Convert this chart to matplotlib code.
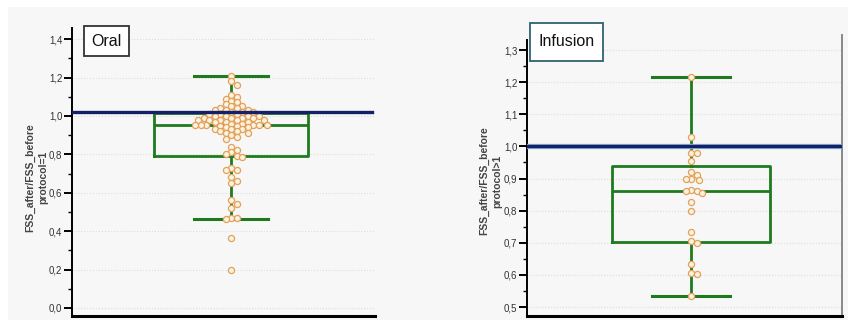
import numpy as np
import matplotlib
matplotlib.use("Agg")
import matplotlib.pyplot as plt
import matplotlib.patheffects as pe
from matplotlib.patches import Rectangle
from matplotlib.ticker import MultipleLocator, FuncFormatter

# values
oral = [1.21, 1.18, 1.16, 1.11, 1.10, 1.09, 1.08, 1.07, 1.06, 1.05, 1.05, 1.04, 1.04,
        1.03, 1.03, 1.03, 1.02, 1.02, 1.02, 1.01, 1.01, 1.01, 1.00, 1.00, 1.00, 1.00,
        0.99, 0.99, 0.99, 0.99, 0.98, 0.98, 0.98, 0.98, 0.98, 0.97, 0.97, 0.97, 0.96,
        0.96, 0.955, 0.955, 0.955, 0.955, 0.955, 0.955, 0.95, 0.95, 0.94, 0.94, 0.93,
        0.93, 0.93, 0.92, 0.92, 0.91, 0.91, 0.90, 0.89, 0.88, 0.84, 0.82, 0.81, 0.80,
        0.79, 0.785, 0.73, 0.72, 0.72, 0.68, 0.66, 0.65, 0.56, 0.54, 0.52, 0.47, 0.47,
        0.465, 0.365, 0.20]
infusion = [1.217, 1.03, 0.98, 0.98, 0.956, 0.92, 0.91, 0.90, 0.90, 0.895, 0.865,
            0.862, 0.86, 0.855, 0.826, 0.80, 0.735, 0.705, 0.70, 0.633, 0.605, 0.602,
            0.535]
oral_stats = dict(whislo=0.465, q1=0.79, med=0.955, q3=1.015, whishi=1.21)
inf_stats = dict(whislo=0.533, q1=0.703, med=0.862, q3=0.94, whishi=1.215)
oral_ref = 1.018
inf_ref = 1.0
titles = ["Oral", "Infusion"]
ylabels = ["FSS_after/FSS_before\nprotocol=1", "FSS_after/FSS_before\nprotocol>1"]

W, H = 848, 320
bg = "#f7f7f7"
green = "#1f7a1f"
navy = "#15206a"
font = ["Liberation Sans", "DejaVu Sans"]

fig = plt.figure(figsize=(W / 100, H / 100), dpi=100, facecolor="white")
fig.patches.append(Rectangle((8 / W, 0), 1, 1 - 7 / H, transform=fig.transFigure,
                             facecolor=bg, edgecolor="none", zorder=-10))

comma = FuncFormatter(lambda v, p: ("%.1f" % v).replace(".", ","))


def swarm(ax, vals, center, d):
    # simple beeswarm in pixel space
    pts = ax.transData.transform(np.column_stack([np.full(len(vals), center), vals]))
    cx = pts[0, 0]
    placed = []
    xs = []
    for (x, y) in pts:
        k = 0
        while True:
            step = (k + 1) // 2 * (1 if k % 2 else -1) * d * 0.5
            cand = cx + step
            if all((cand - px) ** 2 + (y - py) ** 2 >= (d * 0.95) ** 2 for px, py in placed):
                break
            k += 1
        placed.append((cand, y))
        xs.append(cand)
    back = ax.transData.inverted().transform(np.column_stack([xs, pts[:, 1]]))
    return back[:, 0]


def panel(rect, vals, stats, ref, ylim, major, minor, center, boxw, capw, ylab, labx, halo):
    ax = fig.add_axes(rect)
    ax.set_facecolor(bg)
    ax.set_xlim(0, 1)
    ax.set_ylim(*ylim)
    for s in ["top", "right"]:
        ax.spines[s].set_visible(False)
    ax.spines["left"].set_linewidth(1.4)
    ax.spines["bottom"].set_linewidth(2.2)
    ax.yaxis.set_major_locator(MultipleLocator(major))
    ax.yaxis.set_minor_locator(MultipleLocator(minor))
    ax.yaxis.set_major_formatter(comma)
    ax.tick_params(axis="y", which="major", length=6, width=1.4, labelsize=7,
                   labelcolor="#333333", pad=1)
    ax.tick_params(axis="y", which="minor", length=3, width=1.0)
    for t in ax.get_yticklabels():
        t.set_fontfamily(font)
    ax.set_xticks([])
    ax.grid(axis="y", which="major", color="#dddddd", linestyle=":", linewidth=0.8)
    st = dict(stats)
    st["fliers"] = []
    ax.bxp([st], positions=[center], widths=boxw, capwidths=capw, showfliers=False,
           boxprops=dict(color=green, linewidth=2),
           medianprops=dict(color=green, linewidth=2),
           whiskerprops=dict(color=green, linewidth=2),
           capprops=dict(color=green, linewidth=2.2),
           manage_ticks=False, zorder=2)
    xs = swarm(ax, vals, center, 5.5)
    ax.plot(xs, vals, "o", ms=4.4, mew=0.9, mec="#e2a15c", mfc="#fbf3df",
            linestyle="none", zorder=3)
    effects = [pe.Stroke(linewidth=3.8, foreground="#8fb5d5"), pe.Normal()] if halo else None
    ax.axhline(ref, xmin=0, xmax=0.99 if not halo else 1.0, color=navy, linewidth=2.4,
               zorder=4, path_effects=effects)
    fig.text(labx, rect[1] + rect[3] * 0.48, ylab, rotation=90, ha="center", va="center",
             multialignment="center", fontsize=7.5, color="#444444", fontweight="bold",
             linespacing=1.35, family=font)
    return ax


ax1 = panel([72 / W, 4 / H, 303 / W, 288 / H], oral, oral_stats, oral_ref,
            (-0.042, 1.458), 0.2, 0.1, 0.525, 0.51, 0.247, ylabels[0], 37 / W, False)
ax2 = panel([527 / W, 4 / H, 315 / W, 281 / H], infusion, inf_stats, inf_ref,
            (0.472, 1.347), 0.1, 0.05, 0.521, 0.50, 0.247, ylabels[1], 491 / W, True)
ax2.spines["right"].set_visible(True)
ax2.spines["right"].set_color("#888888")
ax2.spines["right"].set_linewidth(1.4)
ax2.spines["left"].set_bounds(0.472, 1.33)

# label boxes
for (x0, y0, x1, y1), txt, ec in [((84, 26, 129, 56), titles[0], "#333333"),
                                  ((530, 23, 603, 61), titles[1], "#2f6273")]:
    fig.patches.append(Rectangle((x0 / W, 1 - y1 / H), (x1 - x0) / W, (y1 - y0) / H,
                                 transform=fig.transFigure, facecolor="white",
                                 edgecolor=ec, linewidth=1.3, zorder=5))
    fig.text((x0 + x1) / 2 / W, 1 - (y0 + y1) / 2 / H, txt, ha="center", va="center",
             fontsize=11.5, family=font, color="#111111", zorder=6)

fig.savefig("out.png", dpi=100, facecolor="white")
